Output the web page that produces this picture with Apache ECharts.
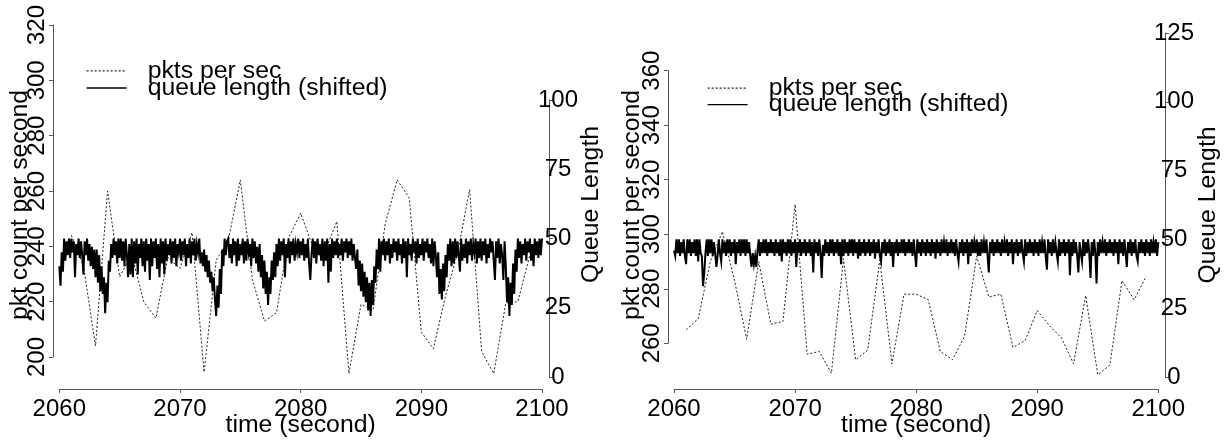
<!DOCTYPE html>
<html><head><meta charset="utf-8">
<script src="https://cdn.jsdelivr.net/npm/echarts@6/dist/echarts.min.js"></script>
<style>html,body{margin:0;padding:0;background:#fff}#c{width:1227px;height:442px}</style>
</head><body><div id="c"></div>
<script>
// ---------------- data ----------------
const seriesNames = ['pkts per sec', 'queue length (shifted)'];
const xTitle = 'time (second)';
const leftTitle = 'pkt count per second';
const rightTitle = 'Queue Length';
const xTickRange = [2060, 2100, 10];
const leftPktRange = [200, 320, 20];
const leftQueueRange = [0, 100, 25];
const rightPktRange = [260, 360, 20];
const rightQueueRange = [0, 125, 25];

const pktSeconds = [2061,2062,2063,2064,2065,2066,2067,2068,2069,2070,2071,2072,2073,2074,2075,2076,2077,2078,2079,2080,
  2081,2082,2083,2084,2085,2086,2087,2088,2089,2090,2091,2092,2093,2094,2095,2096,2097,2098,2099];
const pktLeft = [244,233,204,260,229,237,220,214,236,232,245,194.5,235,242,264,228,213,216,243,252,
  240,238,249,194,219,217,248,264,257.5,209,203,222,237.5,260.5,202,194,219.5,220,237];
const pktRight = [265,269,290,301,283,261.5,290,267,268,311,256,257,249,291,254,257.5,290.5,252.5,278,278,
  276,257,254,262.5,292,277,278,258.5,261,272,266.5,262,252.5,277.5,248.5,252,283,276,284.5];

// queue length sampled every 0.1 s from 2060.0 to 2100.0
const queueStart = 2060;
const queueStep = 0.1;
const queueLeft = [
40,33,45,38,50,42,49,44,50,43,
50,45,49,36,48,44,50,43,49,44,
37,49,44,50,42,48,40,47,39,46,
36,46,34,44,31,40,30,36,23,34,
27,42,38,48,43,50,44,49,41,50,
43,50,42,49,40,50,44,36,48,37,
50,36,49,41,50,37,48,43,50,40,
49,38,50,42,48,35,50,40,49,43,
50,39,48,36,50,41,49,37,50,42,
48,44,50,41,49,43,50,40,48,45,
50,42,49,44,50,40,48,43,50,41,
49,44,50,42,48,45,50,41,45,40,
46,38,44,36,42,34,38,31,36,28,
22,33,25,39,30,46,40,50,44,49,
50,43,48,41,50,44,49,40,50,42,
48,44,50,41,49,42,50,45,48,40,
50,43,49,41,47,38,48,36,44,32,
42,30,38,26,36,30,42,35,45,36,
48,40,50,42,49,44,50,36,48,43,
50,41,49,44,50,42,48,45,50,43,
49,44,50,42,48,43,50,41,35,44,
50,43,49,41,50,44,48,42,50,40,
49,42,50,34,48,38,50,43,49,44,
50,43,48,44,50,42,49,45,50,43,
49,44,50,42,48,43,39,46,33,42,
31,41,29,38,27,36,24,34,22,35,
26,40,34,46,39,50,38,49,44,50,
42,49,44,50,41,48,43,50,45,49,
42,50,44,48,41,50,43,49,36,50,
44,48,42,50,45,49,41,50,43,48,
44,50,42,49,45,50,43,48,41,50,
40,49,44,36,45,30,39,28,41,31,
44,36,48,42,50,40,49,41,50,43,
49,44,38,50,42,48,43,50,41,49,
44,50,42,48,45,50,41,49,43,50,
42,49,44,50,41,48,43,50,45,49,
42,35,49,43,50,41,48,44,35,49,
40,27,36,22,34,26,41,30,46,38,
50,43,49,41,48,44,50,42,49,45,
50,42,48,40,50,44,49,43,50,44,
50];
const queueRight = [
46,44,50,45,50,44,49,45,50,44,
41,50,45,50,44,49,45,50,44,50,
42,50,45,44,33,38,45,50,44,50,
45,50,44,49,45,40,44,50,45,42,
50,45,49,44,50,45,50,44,49,45,
50,41,49,45,50,44,50,45,50,44,
50,45,49,44,40,45,41,44,40,46,
50,44,49,45,50,45,50,44,49,45,
50,45,49,44,50,45,49,44,50,42,
50,45,49,44,50,45,50,44,49,45,
50,40,49,45,50,44,49,45,50,44,
49,45,50,44,49,38,50,45,49,44,
50,45,36,48,44,50,45,49,44,50,
45,50,44,49,45,50,44,49,41,50,
44,50,45,49,44,50,45,50,44,50,
45,49,43,50,44,49,45,50,44,49,
45,50,44,49,45,50,43,49,45,50,
44,42,49,45,50,44,49,45,50,44,
49,40,49,45,50,44,49,45,50,45,
50,44,49,45,50,45,49,44,50,45,
40,50,45,49,44,50,45,49,44,50,
45,49,44,50,45,49,43,50,45,49,
44,50,45,49,45,50,44,49,45,50,
45,49,44,50,45,42,49,45,50,44,
49,45,50,41,49,44,50,45,49,45,
50,44,49,44,50,45,49,45,50,44,
38,49,45,50,44,49,45,50,45,49,
44,50,45,49,45,50,44,49,45,50,
41,49,45,50,44,49,45,50,45,42,
50,44,49,45,50,45,49,44,50,45,
49,44,50,45,49,45,50,44,39,50,
45,49,44,50,45,49,45,42,50,44,
49,45,50,44,49,45,50,37,49,44,
50,45,49,44,38,49,45,42,50,44,
49,45,50,45,36,49,44,50,45,34,
49,44,50,45,49,45,50,44,49,45,
50,45,49,44,50,45,49,41,50,45,
49,44,50,45,40,49,45,50,44,49,
45,50,44,42,49,45,50,45,49,44,
50,45,49,44,50,45,49,45,50,44,
49];

// ---------------- chart ----------------
const FONT = '"Liberation Sans", Arial, sans-serif';
const AXC = '#555';
const ink = '#000';
const TICK_FS = 24;
const NAME_FS = 24.8;

function pairs(xs, ys) { return ys.map((v, i) => [xs[i], v]); }
function qpairs(arr) { return arr.map((v, i) => [queueStart + i * queueStep, v]); }

const panels = [
  { gx: 59.3, gw: 482.7, pTop: 25, pH: 332, qTop: 100, qH: 277, pkt: leftPktRange, q: leftQueueRange,
    lOff: 6.3, rOff: 7, lGap: 20, rGap: 30, lPad: [0, 28, 0, 0], rPad: [0, 0, 0, 68],
    pktData: pktLeft, qData: queueLeft, legLeft: 86, legTop: 58.3, legGap: -7.8 },
  { gx: 674, gw: 484.3, pTop: 70.7, pH: 272.6, qTop: 33, qH: 344, pkt: rightPktRange, q: rightQueueRange,
    lOff: 6, rOff: 6.7, lGap: 23, rGap: 31, lPad: [0, 0, 0, 4], rPad: 0,
    pktData: pktRight, qData: queueRight, legLeft: 707, legTop: 75.6, legGap: -8.5 }
];

const grid = [], xAxis = [], yAxis = [], series = [], legend = [];
const lineBase = { lineStyle: { color: AXC, width: 1 } };
panels.forEach((p, k) => {
  const gA = grid.length;
  grid.push({ left: p.gx, width: p.gw, top: p.pTop, height: p.pH, outerBoundsMode: 'none', containLabel: false });
  grid.push({ left: p.gx, width: p.gw, top: p.qTop, height: p.qH, outerBoundsMode: 'none', containLabel: false });
  const gB = gA + 1;
  xAxis.push({ type: 'value', gridIndex: gA, min: xTickRange[0], max: xTickRange[1], show: false });
  xAxis.push({ type: 'value', gridIndex: gB, min: xTickRange[0], max: xTickRange[1], interval: xTickRange[2],
    position: 'bottom', offset: 12,
    axisLine: { show: true, onZero: false, ...lineBase },
    axisTick: { show: true, length: 4, inside: false, ...lineBase },
    splitLine: { show: false },
    axisLabel: { show: true, margin: 8, fontSize: TICK_FS, color: ink, fontFamily: FONT, formatter: v => String(v) },
    name: xTitle, nameLocation: 'middle', nameGap: 24, nameMoveOverlap: false,
    nameTextStyle: { fontSize: NAME_FS, color: ink, fontFamily: FONT } });
  yAxis.push({ type: 'value', gridIndex: gA, min: p.pkt[0], max: p.pkt[1], interval: p.pkt[2],
    position: 'left', offset: p.lOff,
    axisLine: { show: true, onZero: false, ...lineBase },
    axisTick: { show: true, length: 4, inside: false, ...lineBase },
    splitLine: { show: false },
    axisLabel: { show: true, rotate: 90, margin: 4, fontSize: TICK_FS, color: ink, fontFamily: FONT, formatter: v => String(v) },
    name: leftTitle, nameLocation: 'middle', nameRotate: 90, nameGap: p.lGap, nameMoveOverlap: false,
    nameTextStyle: { fontSize: NAME_FS, color: ink, fontFamily: FONT, padding: p.lPad } });
  yAxis.push({ type: 'value', gridIndex: gB, min: p.q[0], max: p.q[1], interval: p.q[2],
    position: 'right', offset: p.rOff,
    axisLine: { show: true, onZero: false, ...lineBase },
    axisTick: { show: true, length: 4, inside: false, ...lineBase },
    splitLine: { show: false },
    axisLabel: { show: true, margin: 9, align: 'center', fontSize: TICK_FS, color: ink, fontFamily: FONT, formatter: v => String(v) },
    name: rightTitle, nameLocation: 'middle', nameRotate: 90, nameGap: p.rGap, nameMoveOverlap: false,
    nameTextStyle: { fontSize: NAME_FS, color: ink, fontFamily: FONT, padding: p.rPad } });
  series.push({ name: seriesNames[0], type: 'line', xAxisIndex: gA, yAxisIndex: gA, data: pairs(pktSeconds, p.pktData),
    symbol: 'none', showSymbol: false, clip: false, z: 2,
    lineStyle: { color: '#222', width: 1, type: [2, 2] }, itemStyle: { color: '#222' } });
  series.push({ name: seriesNames[1], type: 'line', xAxisIndex: gB, yAxisIndex: gB, data: qpairs(p.qData),
    symbol: 'none', showSymbol: false, clip: false, z: 3,
    lineStyle: { color: '#000', width: 2, join: 'miter' }, itemStyle: { color: '#000' } });
  legend.push({ orient: 'vertical', left: p.legLeft, top: p.legTop, itemWidth: 40, itemHeight: 12, itemGap: p.legGap,
    padding: 0, selectedMode: false, data: seriesNames,
    itemStyle: { color: 'rgba(0,0,0,0)', borderWidth: 0, opacity: 0 },
    lineStyle: { width: 1.3 },
    textStyle: { fontSize: NAME_FS, color: ink, fontFamily: FONT, padding: [0, 0, 0, 16] } });
});

const chart = echarts.init(document.getElementById('c'), null, { renderer: 'canvas' });
chart.setOption({ animation: false, backgroundColor: '#fff', grid, xAxis, yAxis, series, legend, tooltip: { show: false } });
</script></body></html>
